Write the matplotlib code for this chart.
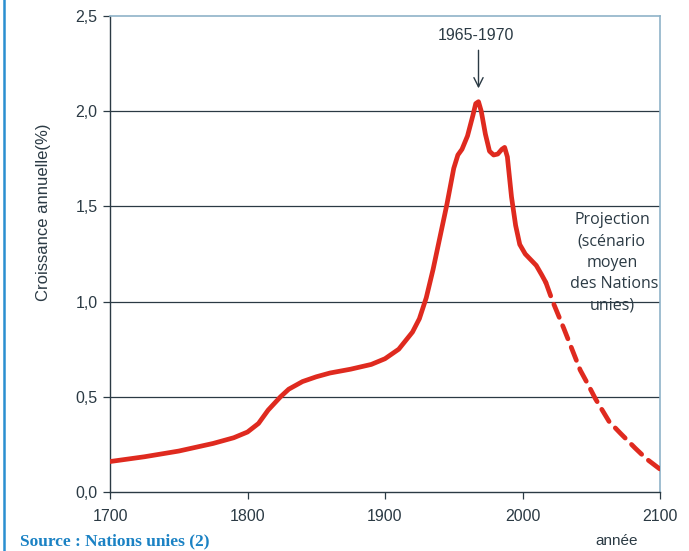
#!/usr/bin/env python3
"""Croissance annuelle de la population mondiale, 1700-2100."""

import matplotlib
matplotlib.use("Agg")
import matplotlib.pyplot as plt
from matplotlib.lines import Line2D


# observed growth rate (%)
YEARS_OBS = [1700, 1725, 1750, 1775, 1790, 1800, 1808, 1815, 1824, 1830,
             1840, 1850, 1860, 1875, 1890, 1900, 1910, 1920, 1925, 1930,
             1935, 1940, 1945, 1950, 1953, 1956, 1960, 1964, 1966, 1968,
             1970, 1973, 1976, 1979, 1982, 1985, 1987, 1989, 1992, 1995,
             1998, 2002, 2006, 2010, 2014, 2017]
GROWTH_OBS = [0.16, 0.185, 0.215, 0.255, 0.285, 0.315, 0.36, 0.43, 0.50, 0.54,
              0.58, 0.605, 0.625, 0.645, 0.67, 0.70, 0.75, 0.84, 0.91, 1.02,
              1.17, 1.34, 1.51, 1.70, 1.77, 1.80, 1.87, 1.98, 2.04, 2.05,
              2.00, 1.88, 1.79, 1.77, 1.775, 1.80, 1.81, 1.76, 1.55, 1.40,
              1.30, 1.25, 1.22, 1.19, 1.14, 1.10]

# UN medium-variant projection
YEARS_PROJ = [2017, 2022, 2030, 2036, 2042, 2048, 2053, 2058, 2063, 2071,
              2082, 2090, 2100]
GROWTH_PROJ = [1.10, 1.00, 0.86, 0.75, 0.64, 0.56, 0.49, 0.43, 0.37, 0.31,
               0.23, 0.175, 0.12]

X_TICKS = [1700, 1800, 1900, 2000, 2100]
Y_TICKS = [0.0, 0.5, 1.0, 1.5, 2.0, 2.5]
Y_LABELS = ["0,0", "0,5", "1,0", "1,5", "2,0", "2,5"]

RED = "#df2a1f"
DARK = "#2b3a44"
FRAME = "#8fb3c8"

plt.rcParams.update({
    "font.family": ["Liberation Sans", "DejaVu Sans"],
    "font.size": 11,
})

fig = plt.figure(figsize=(6.89, 5.51), dpi=100, facecolor="white")
ax = fig.add_axes([110 / 689, 59 / 551, 550 / 689, 476 / 551])

for level in Y_TICKS[1:-1]:
    ax.axhline(level, color=DARK, linewidth=0.9, zorder=1)

ax.plot(YEARS_OBS, GROWTH_OBS, color=RED, linewidth=3.4,
        solid_joinstyle="round", solid_capstyle="round", zorder=3)
ax.plot(YEARS_PROJ, GROWTH_PROJ, color=RED, linewidth=3.4,
        linestyle=(0, (3.0, 1.9)), dash_capstyle="round", zorder=3)

ax.set_xlim(1700, 2100)
ax.set_ylim(0, 2.5)
ax.set_xticks(X_TICKS)
ax.set_yticks(Y_TICKS)
ax.set_yticklabels(Y_LABELS)
ax.tick_params(axis="both", labelsize=11.5, colors=DARK, direction="out",
               length=5, width=0.9, pad=4)
ax.tick_params(axis="x", pad=7)

ax.spines["left"].set_color(DARK)
ax.spines["bottom"].set_color(DARK)
ax.spines["left"].set_linewidth(1.0)
ax.spines["bottom"].set_linewidth(1.0)
ax.spines["top"].set_color(FRAME)
ax.spines["right"].set_color(FRAME)
ax.spines["top"].set_linewidth(1.2)
ax.spines["right"].set_linewidth(1.2)

fig.text(44 / 689, 1 - 212 / 551, "Croissance annuelle(%)", rotation=90,
         ha="center", va="center", fontsize=12, color=DARK)

ax.text(1966, 2.36, "1965-1970", ha="center", va="bottom", fontsize=11.5,
        color=DARK)
ax.annotate("", xy=(1968, 2.12), xytext=(1968, 2.32),
            arrowprops={"arrowstyle": "->,head_length=0.6,head_width=0.3",
                        "color": DARK, "linewidth": 1.0,
                        "shrinkA": 0, "shrinkB": 0})

ax.text(2065, 1.47, "Projection\n(scénario\nmoyen\n des Nations\nunies)",
        ha="center", va="top", fontsize=11.5, color=DARK,
        family=["Open Sans", "DejaVu Sans"], linespacing=1.45)

fig.text(617 / 689, 1 - 541 / 551, "année", ha="center", va="center",
         fontsize=11, color=DARK)
fig.text(20 / 689, 1 - 541 / 551, "Source : Nations unies (2)", ha="left",
         va="center", fontsize=12.5, fontweight="bold", color="#1b82c4",
         family=["Liberation Serif", "DejaVu Serif"])

# page border on the left
fig.add_artist(Line2D([3.5 / 689, 3.5 / 689], [0, 1], color="#2a8fd0",
                      linewidth=1.8, transform=fig.transFigure))

fig.savefig("out.png", dpi=100, facecolor="white")
